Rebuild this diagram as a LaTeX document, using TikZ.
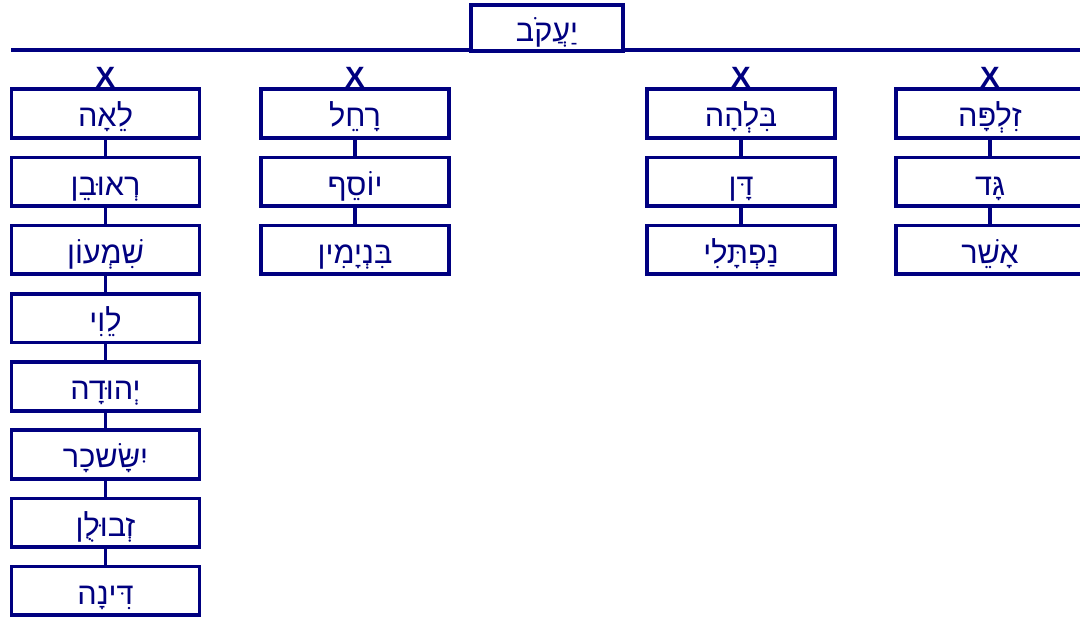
\documentclass[tikz,border=0pt]{standalone}
\usepackage{fontspec}
\setmainfont{Liberation Sans}
\newfontfamily\hebfont[Script=Hebrew]{Liberation Sans}
\newfontfamily\xfont{Liberation Sans Bold}
\TeXXeTstate=1
\definecolor{navyc}{RGB}{0,0,128}
\begin{document}
\begin{tikzpicture}[x=0.75pt,y=-0.75pt,
  box/.style={draw=navyc,line width=2.8pt,minimum width=141pt,minimum height=36.5pt,inner sep=0pt,text=navyc,font=\hebfont\fontsize{23}{25}\selectfont},
  lbl/.style={text=navyc,font=\hebfont\fontsize{23}{25}\selectfont,inner sep=0pt,anchor=base},
  topbox/.style={draw=navyc,line width=2.8pt,minimum width=114pt,minimum height=34.5pt,inner sep=0pt,fill=white},
  xlab/.style={text=navyc,font=\xfont\fontsize{22}{24}\selectfont,inner sep=0pt},
  link/.style={draw=navyc,line width=2.8pt}]
\clip (0,0) rectangle (1080,617);
\fill[white] (0,0) rectangle (1080,617);
% top line
\coordinate (L) at (11,50);
\coordinate (R) at (1085,50);
\draw[link] (L) -- (R);
\node[topbox] (jacob) at (547,28) {};
\node[lbl] (jacobt) at ([yshift=-10pt]jacob.center) {\beginR יַעֲקֹב\endR};
% X labels
\node[xlab] (x1) at (105.5,77) {X};
\node[xlab] (x2) at (355,77) {X};
\node[xlab] (x3) at (741,77) {X};
\node[xlab] (x4) at (990,77) {X};
% Leah column
\foreach \n/\y/\t in {leah/113.5/לֵאָה,reuven/181.7/רְאוּבֵן,shimon/249.9/שִׁמְעוֹן,levi/318.1/לֵוִי,yehuda/386.3/יְהוּדָה,yissachar/454.5/יִשָּׂשכָר,zevulun/522.7/זְבוּלֻן,dina/590.9/דִּינָה}{
  \node[box] (\n) at (105.5,\y) {};
  \node[lbl] (\n t) at ([yshift=-10pt]\n.center) {\beginR\t\endR};
}
\foreach \a/\b in {leah/reuven,reuven/shimon,shimon/levi,levi/yehuda,yehuda/yissachar,yissachar/zevulun,zevulun/dina}
  \draw[link] (\a.south) -- (\b.north);
% Rachel column
\foreach \n/\y/\t in {rachel/113.5/רָחֵל,yosef/181.7/יוֹסֵף,binyamin/249.9/בִּנְיָמִין}{
  \node[box] (\n) at (355,\y) {};
  \node[lbl] (\n t) at ([yshift=-10pt]\n.center) {\beginR\t\endR};
}
\draw[link] (rachel.south) -- (yosef.north);
\draw[link] (yosef.south) -- (binyamin.north);
% Bilhah column
\foreach \n/\y/\t in {bilhah/113.5/בִּלְהָה,dan/181.7/דָּן,naftali/249.9/נַפְתָּלִי}{
  \node[box] (\n) at (741,\y) {};
  \node[lbl] (\n t) at ([yshift=-10pt]\n.center) {\beginR\t\endR};
}
\draw[link] (bilhah.south) -- (dan.north);
\draw[link] (dan.south) -- (naftali.north);
% Zilpah column
\foreach \n/\y/\t in {zilpah/113.5/זִלְפָּה,gad/181.7/גָּד,asher/249.9/אָשֵׁר}{
  \node[box] (\n) at (990,\y) {};
  \node[lbl] (\n t) at ([yshift=-10pt]\n.center) {\beginR\t\endR};
}
\draw[link] (zilpah.south) -- (gad.north);
\draw[link] (gad.south) -- (asher.north);
\end{tikzpicture}
\end{document}
